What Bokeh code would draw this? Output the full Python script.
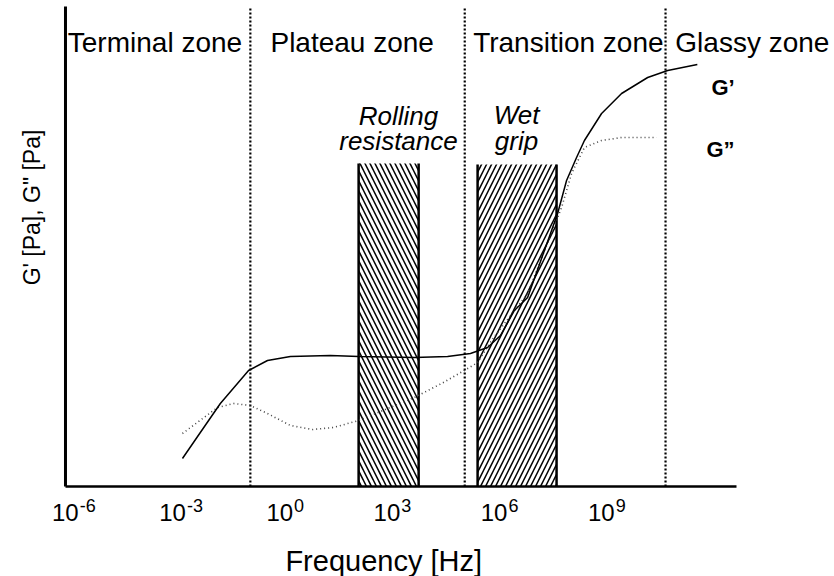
import math
from bokeh.plotting import figure
from bokeh.models import ColumnDataSource, LabelSet, Label, Range1d
from bokeh.core.properties import value
from bokeh.embed import file_html
from bokeh.resources import INLINE

# ---------------- data ----------------
tick_exponents = [-6, -3, 0, 3, 6, 9]
tick_base_text = ["10", "10", "10", "10", "10", "10"]
tick_exp_text = ["-6", "-3", "0", "3", "6", "9"]

zone_names = ["Terminal zone", "Plateau zone", "Transition zone", "Glassy zone"]
zone_label_logf = [-3.67, 1.85, 7.90, 13.05]
zone_boundary_logf = [-1.0, 5.0, 10.62]

band_names = ["Rolling resistance", "Wet grip"]
band_lo_logf = [2.03, 5.36]
band_hi_logf = [3.71, 7.57]
band_top = [323, 322]

# G' (storage modulus, arbitrary units)
gp_logf = [-2.90, -2.40, -1.84, -1.05, -0.52, 0.12, 1.24, 2.03, 3.59, 4.52, 5.16,
           5.64, 6.00, 6.39, 6.76, 7.18, 7.60, 7.85, 8.13, 8.35, 8.83, 9.39,
           10.12, 10.68, 11.51]
gp_val = [28, 54, 83, 116, 126, 130, 131, 130, 129, 130, 133,
          139, 151, 176, 189, 231, 273, 306, 329, 346, 373, 393,
          409, 416, 422]

# G'' (loss modulus, arbitrary units)
gpp_logf = [-2.90, -1.92, -1.47, -1.00, -0.52, 0.12, 0.74, 1.33, 2.03, 3.59, 4.35,
            4.99, 5.36, 5.75, 6.39, 6.76, 7.71, 7.99, 8.35, 8.83, 9.39, 9.95, 10.37]
gpp_val = [53, 79, 83, 81, 73, 61, 57, 59, 66, 89, 103,
           116, 124, 146, 176, 193, 279, 313, 339, 346, 349, 349, 349]

# axis extent (log10 frequency) and top of the modulus axis
axis_lo_log, axis_hi_log = -6.174, 12.606
axis_top = 480

# visible window (log10 frequency / modulus units)
view_lo_log, view_hi_log = -7.993, 15.349
view_bottom, view_top = -90, 486

FONT = "Liberation Sans"


def f(v):
    return [10 ** a for a in v]


p = figure(width=834, height=576, x_axis_type="log", y_axis_type="linear",
           x_range=Range1d(10 ** view_lo_log, 10 ** view_hi_log),
           y_range=Range1d(view_bottom, view_top),
           x_axis_location=None, y_axis_location=None,
           output_backend="svg", toolbar_location=None,
           min_border=0, min_border_left=0, min_border_right=0,
           min_border_top=0, min_border_bottom=0)
p.xgrid.visible = False
p.ygrid.visible = False
p.outline_line_color = None
p.background_fill_color = "white"
p.border_fill_color = "white"

# hatched bands
patterns = ["left_diagonal_line", "right_diagonal_line"]
for i in range(len(band_names)):
    p.quad(left=[10 ** band_lo_logf[i]], right=[10 ** band_hi_logf[i]], bottom=[0], top=[band_top[i]],
           fill_color="white", line_color=None, hatch_pattern=patterns[i],
           hatch_color="black", hatch_scale=10, hatch_weight=1.5)
edge_src = ColumnDataSource(dict(
    x=f(band_lo_logf) + f(band_hi_logf),
    y0=[0] * 4,
    y1=band_top + band_top))
p.segment(x0="x", y0="y0", x1="x", y1="y1", source=edge_src, line_color="black", line_width=2.5)

# zone boundaries
zb_src = ColumnDataSource(dict(x=f(zone_boundary_logf), y0=[0] * 3, y1=[axis_top] * 3))
p.segment(x0="x", y0="y0", x1="x", y1="y1", source=zb_src, line_color="black",
          line_dash="2 2", line_width=2.2)

# axes lines
p.segment(x0=[10 ** axis_lo_log], y0=[0], x1=[10 ** axis_hi_log], y1=[0],
          line_color="black", line_width=2.5)
p.segment(x0=[10 ** axis_lo_log], y0=[0], x1=[10 ** axis_lo_log], y1=[axis_top],
          line_color="black", line_width=3)

# curves
p.line(f(gpp_logf), gpp_val, line_color="#444444", line_width=1.6, line_dash="1 3")
p.line(f(gp_logf), gp_val, line_color="black", line_width=1.5)

# tick labels
tick_src = ColumnDataSource(dict(x=f(tick_exponents), y=[-34] * len(tick_exponents),
                                 base=tick_base_text, exp=tick_exp_text))
p.add_layout(LabelSet(x="x", y="y", text="base", source=tick_src, text_align="right",
                      x_offset=7, text_font=value(FONT), text_font_size="24px",
                      text_color="black", text_baseline="alphabetic"))
p.add_layout(LabelSet(x="x", y="y", text="exp", source=tick_src, text_align="left",
                      x_offset=8, y_offset=9, text_font=value(FONT), text_font_size="18px",
                      text_color="black", text_baseline="alphabetic"))

# zone labels
zone_src = ColumnDataSource(dict(x=f(zone_label_logf), y=[435] * 4, t=zone_names))
p.add_layout(LabelSet(x="x", y="y", text="t", source=zone_src, text_align="center",
                      text_font=value(FONT), text_font_size="28px", text_color="black",
                      text_baseline="alphabetic"))

# band labels
band_lbl = [("Rolling", 3.146, 371), ("resistance", 3.146, 346), ("Wet", 6.45, 372), ("grip", 6.45, 346)]
for t, lx, ly in band_lbl:
    p.add_layout(Label(x=10 ** lx, y=ly, text=t, text_align="center", text_font=FONT,
                       text_font_size="26px", text_font_style="italic", text_color="black",
                       text_baseline="alphabetic"))

# curve labels
p.add_layout(Label(x=10 ** 11.906, y=399, text="G\u2019", text_font=FONT, text_font_size="22px",
                   text_font_style="bold", text_color="black", text_baseline="alphabetic"))
p.add_layout(Label(x=10 ** 11.766, y=337, text="G\u201d", text_font=FONT, text_font_size="22px",
                   text_font_style="bold", text_color="black", text_baseline="alphabetic"))

# axis titles
p.add_layout(Label(x=10 ** 2.732, y=-74, text="Frequency [Hz]", text_align="center",
                   text_font=FONT, text_font_size="29px", text_color="black",
                   text_baseline="alphabetic"))
p.add_layout(Label(x=10 ** -7.125, y=279, text="G' [Pa], G\" [Pa]", angle=math.pi / 2,
                   text_align="center", text_baseline="middle", text_font=FONT,
                   text_font_size="23px", text_color="black"))

open("out.html", "w").write(file_html(p, INLINE))
